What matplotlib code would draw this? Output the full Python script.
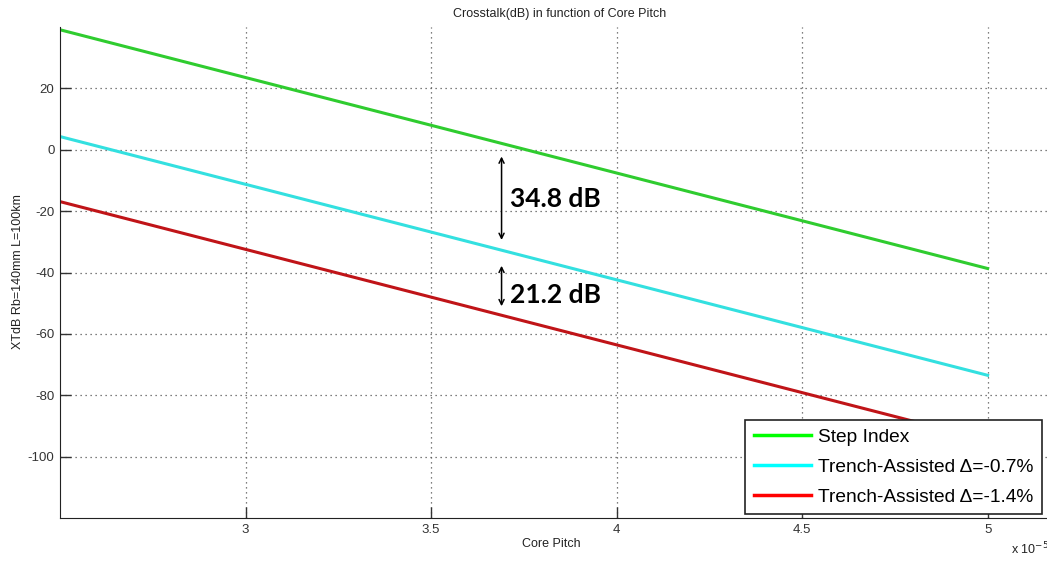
import matplotlib
matplotlib.use('Agg')
import matplotlib.pyplot as plt
from matplotlib.lines import Line2D
import numpy as np

# core pitch end points (m) and crosstalk (dB) for each fibre design
pitch = [2.5e-5, 5.0e-5]
xt_step = [39.1, -38.7]
xt_ta07 = [4.3, -73.5]
xt_ta14 = [-16.9, -94.7]
gap_step_ta07 = 34.8
gap_ta07_ta14 = 21.2
names = ['Step Index', 'Trench-Assisted \u0394=-0.7%', 'Trench-Assisted \u0394=-1.4%']
line_cols = ['#2fcc2f', '#33e0e0', '#c01418']
legend_cols = ['#00ff00', '#00ffff', '#ff0000']

plt.rcParams['font.family'] = ['Liberation Sans', 'DejaVu Sans']
plt.rcParams['axes.unicode_minus'] = False

fig = plt.figure(figsize=(10.47, 5.61), dpi=100)
ax = fig.add_axes([60/1047, 43/561, 1000/1047, 491/561])

scale = 1e-5
xs = np.array(pitch)/scale
for ys, c in zip([xt_step, xt_ta07, xt_ta14], line_cols):
    ax.plot(xs, ys, color=c, lw=2.2)

ax.set_xlim(2.5, 5.195)
ax.set_ylim(-120, 40)
ax.set_xticks([3, 3.5, 4, 4.5, 5])
ax.set_xticklabels(['3', '3.5', '4', '4.5', '5'])
ax.set_yticks([-100, -80, -60, -40, -20, 0, 20])
ax.tick_params(direction='in', length=8, width=1, labelsize=9.5, colors='#333333', pad=4)
ax.grid(True, linestyle=(0, (1, 3)), color='#555555', lw=0.9)
for s in ['top', 'right']:
    ax.spines[s].set_visible(False)
for s in ['left', 'bottom']:
    ax.spines[s].set_color('#222222')

ax.set_title('Crosstalk(dB) in function of Core Pitch', fontsize=9, color='#222222', pad=7)
fig.text(551/1047, 1-544/561, 'Core Pitch', fontsize=9, color='#222222', ha='center', va='center')
fig.text(18/1047, 1-272/561, 'XTdB Rb=140mm L=100km', fontsize=9, color='#222222',
         rotation=90, ha='center', va='center')
fig.text(1030/1047, 1-549/561, 'x 10$^{-5}$', fontsize=9, color='#222222', ha='center', va='center')

# gap annotations between the curves
ax_x = 3.69
ax.annotate('', xy=(ax_x, -30.3), xytext=(ax_x, -1.3),
            arrowprops=dict(arrowstyle='<->', color='black', lw=1.1, mutation_scale=9))
ax.annotate('', xy=(ax_x, -51.9), xytext=(ax_x, -36.9),
            arrowprops=dict(arrowstyle='<->', color='black', lw=1.1, mutation_scale=9))
ax.text(3.713, -16, '%.1f dB' % gap_step_ta07, fontsize=19, fontweight='bold',
        family=['Lato', 'DejaVu Sans'], va='center', ha='left')
ax.text(3.713, -47.3, '%.1f dB' % gap_ta07_ta14, fontsize=19, fontweight='bold',
        family=['Lato', 'DejaVu Sans'], va='center', ha='left')

handles = [Line2D([], [], color=c, lw=2.5) for c in legend_cols]
leg = ax.legend(handles, names, loc='upper left', bbox_to_anchor=(0.685, 0.2),
                fontsize=13.8, frameon=True, fancybox=False, framealpha=1, handlelength=3.0,
                handletextpad=0.35, labelspacing=0.65, borderpad=0.45, borderaxespad=0)
leg.get_frame().set_edgecolor('#222222')
leg.get_frame().set_linewidth(1.2)

fig.savefig('out.png', dpi=100)
